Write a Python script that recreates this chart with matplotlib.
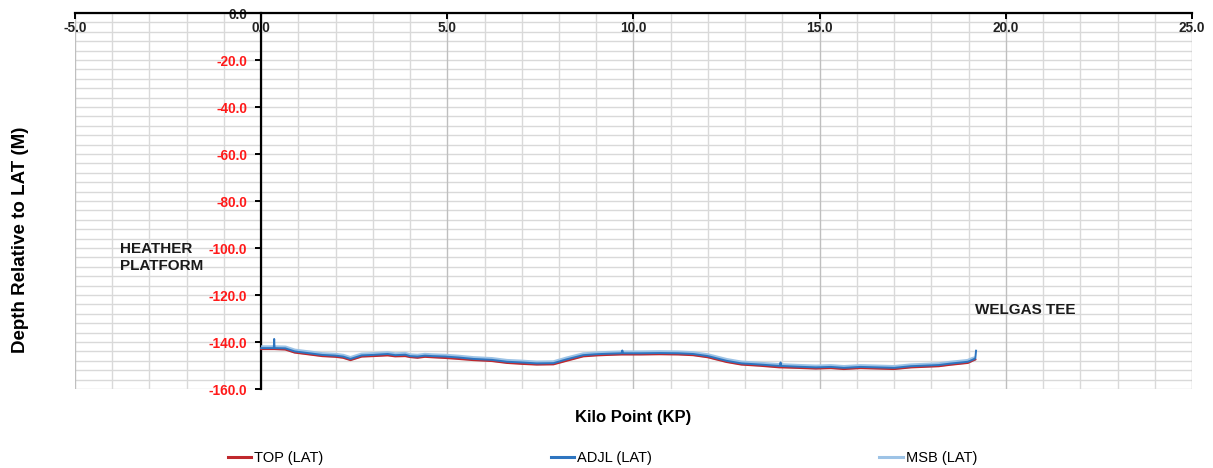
import numpy as np
import matplotlib
matplotlib.use('Agg')
import matplotlib.pyplot as plt
from matplotlib.ticker import MultipleLocator
from matplotlib.lines import Line2D

plt.rcParams['font.family'] = ['Liberation Sans', 'DejaVu Sans']
plt.rcParams['font.weight'] = 'bold'
plt.rcParams['xtick.labelsize'] = 9.8
plt.rcParams['ytick.labelsize'] = 9.8

# kilo point along the route
kp = [0.00, 0.34, 0.35, 0.36, 0.65, 0.90, 1.30, 1.64, 2.00, 2.20,
      2.40, 2.70, 3.00, 3.40, 3.60, 3.87, 4.00, 4.20, 4.40, 4.60,
      4.95, 5.30, 5.70, 6.20, 6.60, 7.00, 7.40, 7.85, 8.20, 8.65,
      9.00, 9.30, 9.68, 9.70, 9.72, 10.20, 10.70, 11.20, 11.60, 12.00,
      12.50, 12.90, 13.40, 13.93, 13.95, 13.97, 14.40, 14.90, 15.30, 15.65,
      16.10, 16.55, 17.00, 17.45, 18.20, 18.50, 18.98, 19.10, 19.18, 19.20]

# depth values (m, relative to LAT)
adjl = [-142.6, -142.6, -138.7, -142.6, -142.7, -144.0, -144.8, -145.5, -145.8, -146.2,
        -147.2, -145.7, -145.5, -145.1, -145.6, -145.4, -146.0, -146.2, -145.8, -146.0,
        -146.2, -146.6, -147.2, -147.6, -148.4, -148.7, -149.1, -149.0, -147.4, -145.6,
        -145.2, -145.0, -144.8, -143.6, -144.8, -144.8, -144.7, -144.8, -145.1, -146.0,
        -148.0, -149.1, -149.6, -150.2, -148.7, -150.2, -150.5, -150.8, -150.6, -151.0,
        -150.6, -150.8, -151.0, -150.3, -149.8, -149.2, -148.4, -147.6, -147.0, -143.7]

top = [-143.0, -143.0, -143.0, -143.0, -143.2, -144.5, -145.3, -146.0, -146.3, -146.7,
       -147.7, -146.2, -146.0, -145.7, -146.1, -146.0, -146.4, -146.7, -146.3, -146.5,
       -146.8, -147.2, -147.7, -148.1, -148.9, -149.3, -149.6, -149.5, -148.0, -146.1,
       -145.7, -145.5, -145.3, -145.3, -145.3, -145.3, -145.2, -145.3, -145.6, -146.5,
       -148.5, -149.6, -150.1, -150.8, -150.8, -150.8, -151.0, -151.3, -151.1, -151.5,
       -151.1, -151.3, -151.5, -150.8, -150.3, -149.7, -148.9, -148.0, -147.4, np.nan]

msb = [-142.4, -142.4, -142.4, -142.4, -142.5, -143.8, -144.6, -145.3, -145.6, -146.0,
       -147.0, -145.5, -145.3, -144.9, -145.4, -145.2, -145.8, -146.0, -145.6, -145.8,
       -146.0, -146.4, -147.0, -147.4, -148.2, -148.5, -148.9, -148.8, -147.2, -145.4,
       -145.0, -144.8, -144.6, -144.6, -144.6, -144.6, -144.5, -144.6, -144.9, -145.8,
       -147.8, -148.9, -149.4, -150.0, -150.0, -150.0, -150.3, -150.6, -150.4, -150.8,
       -150.4, -150.6, -150.8, -150.1, -149.6, -149.0, -148.2, -147.4, -147.0, np.nan]

series_labels = ['TOP (LAT)', 'ADJL (LAT)', 'MSB (LAT)']
series_colors = ['#C0282D', '#2E75C0', '#9DC3E6']

fig = plt.figure(figsize=(12.13, 4.68), dpi=100)
ax = fig.add_axes([0.0618, 0.1688, 0.9209, 0.8034])

ax.plot(kp, msb, color=series_colors[2], lw=3.4, zorder=3, solid_capstyle='butt')
ax.plot(kp, top, color=series_colors[0], lw=1.5, zorder=4)
ax.plot(kp, adjl, color=series_colors[1], lw=1.4, zorder=5)

ax.set_xlim(-5, 25)
ax.set_ylim(-160, 0)
ax.xaxis.set_major_locator(MultipleLocator(5))
ax.yaxis.set_major_locator(MultipleLocator(20))

# grid drawn by hand so it stays under the tick labels
for gx in np.arange(-5, 26, 1):
    ax.axvline(gx, color='#BFBFBF' if gx % 5 == 0 else '#D9D9D9', lw=1.0, zorder=0.2)
for gy in np.arange(-160, 1, 4):
    ax.axhline(gy, color='#D9D9D9', lw=1.0, zorder=0.1)

# axes cross at (0, 0) like the excel chart
ax.spines['left'].set_position(('data', 0))
ax.spines['bottom'].set_position(('data', 0))
ax.spines['right'].set_visible(False)
ax.spines['top'].set_visible(False)
ax.spines['left'].set_linewidth(1.6)
ax.spines['bottom'].set_linewidth(1.6)

ax.tick_params(which='major', length=4, width=1.4, color='black', labelsize=9.8)
ax.tick_params(axis='x', pad=2)
ax.tick_params(axis='y', pad=6)
ax.xaxis.set_major_formatter(plt.FuncFormatter(lambda v, p: f'{v:.1f}'))
ax.yaxis.set_major_formatter(plt.FuncFormatter(lambda v, p: f'{v:.1f}'))

ax.set_ylabel('Depth Relative to LAT (M)', fontsize=13.5, fontweight='bold')
ax.yaxis.set_label_coords(-0.041, 0.396)
ax.set_xlabel('Kilo Point (KP)', fontsize=12, fontweight='bold')
ax.xaxis.set_label_coords(0.5, -0.077)
ax.xaxis.label.set_va('center')

ax.text(-3.79, -104.0, 'HEATHER\nPLATFORM', fontsize=11, fontweight='bold',
        ha='left', va='center', linespacing=1.3, color='#1a1a1a')
ax.text(19.18, -126.4, 'WELGAS TEE', fontsize=11, fontweight='bold',
        ha='left', va='center', color='#1a1a1a')

handles = [Line2D([], [], color=c, lw=2.2) for c in series_colors]
fig.legend(handles, series_labels, loc='center', bbox_to_anchor=(0.4965, 0.021),
           ncol=3, frameon=False, columnspacing=15.6, handlelength=1.6,
           handletextpad=0.2, prop={'size': 10.5, 'weight': 'normal'})

# colour the depth labels once the ticks exist
fig.canvas.draw()
for lab, v in zip(ax.get_yticklabels(), ax.get_yticks()):
    lab.set_color('#222222' if v == 0 else '#FF1A1A')
for lab in ax.get_xticklabels():
    lab.set_color('#222222')

fig.savefig('out.png', dpi=100)
